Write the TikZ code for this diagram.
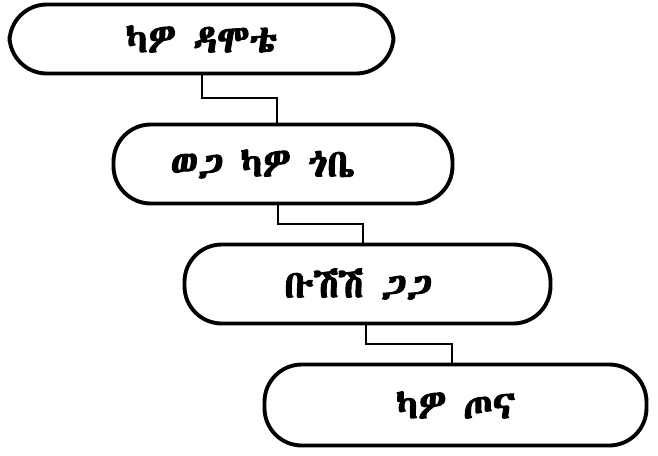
\documentclass[tikz,border=0pt]{standalone}
\usepackage{fontspec}
\usepackage{tikz}
\usetikzlibrary{positioning,calc}
\newfontfamily\ethfont{Abyssinica SIL}[AutoFakeBold=2.5]
\tikzset{
  kingBox/.style={
    draw=black, line width=2.9pt, rounded corners=28pt,
    fill=white, align=center, inner sep=0pt,
    font=\ethfont\bfseries\fontsize{29}{33}\selectfont
  },
  link/.style={line width=.8pt,draw=black}
}
\begin{document}
\begin{tikzpicture}[x=.75pt,y=-.75pt]
  \useasboundingbox (0,0) rectangle (658,455);
  \node[kingBox,minimum height=69*.75pt,minimum width=384*.75pt] (kingA) at (201.5,39) {ካዎ ዳሞቴ};
  \node[kingBox,minimum width=339*.75pt,minimum height=79*.75pt] (kingB) at (283,164) {ወጋ ካዎ ጎቤ\hspace*{30pt}};
  \node[kingBox,minimum width=366*.75pt,minimum height=79*.75pt] (kingC) at (367.5,284) {ቡሽሽ ጋጋ\hspace*{14pt}};
  \node[kingBox,minimum width=382*.75pt,minimum height=81*.75pt] (kingD) at (455.5,405) {ካዎ ጦና};
  \coordinate (bendAa) at (202,98);
  \coordinate (bendAb) at (277,98);
  \coordinate (bendBa) at (278,224);
  \coordinate (bendBb) at (363,224);
  \coordinate (bendCa) at (366,344);
  \coordinate (bendCb) at (452,344);
  \draw[link] (kingA.south -| bendAa) -- (bendAa) -- (bendAb) -- (kingB.north -| bendAb);
  \draw[link] (kingB.south -| bendBa) -- (bendBa) -- (bendBb) -- (kingC.north -| bendBb);
  \draw[link] (kingC.south -| bendCa) -- (bendCa) -- (bendCb) -- (kingD.north -| bendCb);
\end{tikzpicture}
\end{document}
